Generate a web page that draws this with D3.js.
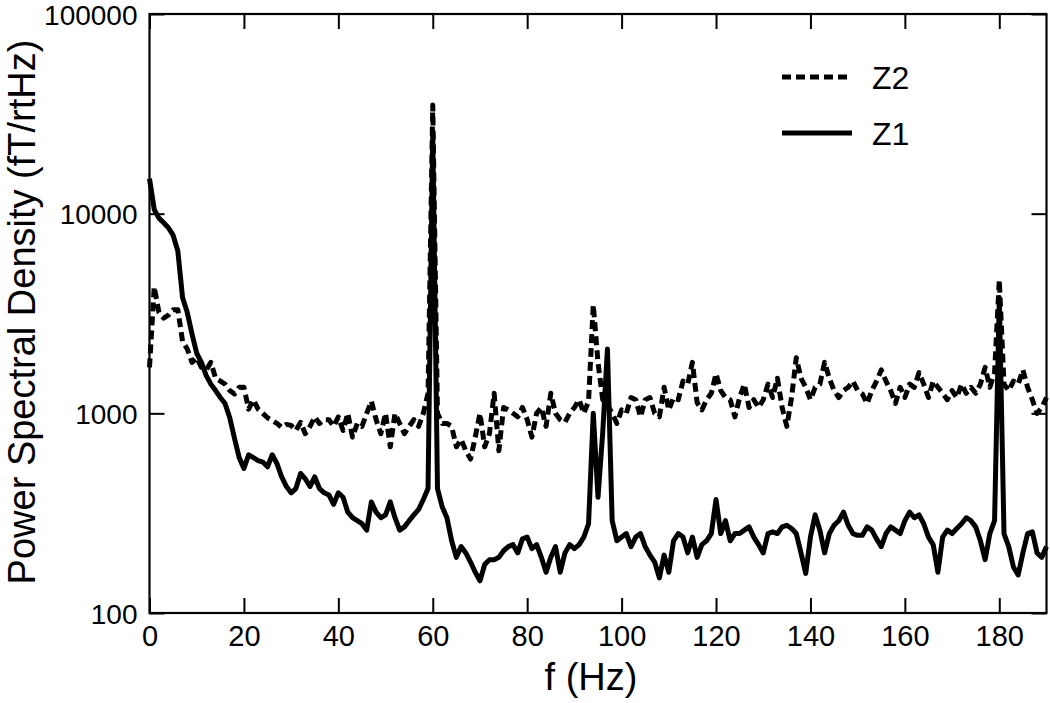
<!DOCTYPE html>
<html lang="en">
<head>
  <meta charset="UTF-8" />
  <title>Power Spectral Density</title>
  <script src="https://d3js.org/d3.v7.min.js"></script>
  <style>
    body {
      margin: 0;
      padding: 0;
      background-color: #fff;
    }
    svg {
      display: block;
      font-family: "Liberation Sans", Arial, sans-serif;
    }
    .axis-line {
      fill: none;
      stroke: #000;
      stroke-width: 2.2px;
    }
    .trace {
      fill: none;
      stroke: #000;
      stroke-width: 5px;
      stroke-linejoin: round;
    }
  </style>
</head>
<body>
  <svg width="1050" height="703"></svg>

  <script>
    // frequency grid, 1 Hz steps from 0 to 190 Hz
    const freqs = d3.range(0, 191);

    // Z1 (solid), fT/rtHz
    const z1 = [
      15000, 10500, 9500, 9000, 8500, 7800, 6500, 3800, 3200, 2500,
      2000, 1800, 1550, 1400, 1300, 1200, 1120, 950, 750, 600,
      530, 620, 600, 580, 570, 540, 620, 560, 480, 430,
      400, 420, 500, 470, 430, 480, 420, 400, 390, 350,
      400, 380, 320, 300, 290, 280, 260, 360, 320, 300,
      310, 360, 300, 260, 270, 290, 310, 330, 370, 420,
      25000, 420, 340, 300, 230, 190, 215, 200, 180, 160,
      145, 175, 185, 185, 190, 205, 215, 220, 200, 235,
      240, 210, 220, 190, 160, 190, 215, 160, 200, 220,
      210, 220, 240, 280, 1000, 380, 800, 2100, 290, 230,
      240, 250, 215, 240, 250, 215, 195, 180, 150, 195,
      160, 230, 250, 240, 200, 240, 190, 220, 230, 250,
      370, 250, 290, 230, 250, 250, 260, 270, 240, 220,
      200, 250, 255, 250, 270, 275, 265, 250, 200, 158,
      240, 310, 260, 200, 250, 275, 290, 320, 275, 250,
      245, 245, 270, 260, 235, 215, 250, 270, 260, 250,
      290, 320, 300, 310, 280, 240, 220, 160, 240, 260,
      250, 265, 280, 300, 290, 270, 230, 185, 250, 290,
      3800, 250, 215, 170, 155, 200, 250, 255, 200, 190,
      215
    ];

    // Z2 (dashed), fT/rtHz
    const z2 = [
      1700, 4300, 3200, 3000, 3100, 3300, 3300, 2300, 2100, 1800,
      1900, 1700, 1650, 1800, 1500, 1450, 1400, 1300, 1250, 1350,
      1350, 1050, 1170, 1050, 1000, 950, 920, 890, 850, 880,
      870, 820, 900, 790, 860, 960, 890, 930, 930, 860,
      960, 820, 1000, 760, 890, 860, 1000, 1150, 930, 790,
      1000, 680, 1000, 890, 790, 860, 930, 860, 1000, 1260,
      35000, 1000, 890, 890, 860, 680, 740, 650, 590, 760,
      1000, 680, 790, 1260, 650, 1070, 1040, 1000, 960, 1070,
      930, 760, 1000, 1070, 860, 1260, 1000, 930, 900, 1000,
      1070, 1170, 1000, 1150, 3500, 1800, 1170, 1100, 1000, 890,
      1040, 1000, 1200, 1170, 960, 1170, 1200, 1000, 960, 1350,
      1040, 1200, 1170, 1450, 1400, 1800, 1130, 1040, 1170, 1260,
      1580, 1300, 1200, 1170, 960, 1200, 1400, 1070, 1170, 1070,
      1170, 1400, 1200, 1500, 1070, 860, 1200, 1900, 1500, 1350,
      1170, 1350, 1400, 1800, 1500, 1300, 1200, 1300, 1350, 1450,
      1300, 1250, 1120, 1300, 1450, 1650, 1450, 1300, 1120, 1350,
      1200, 1400, 1350, 1600, 1400, 1200, 1450, 1350, 1260, 1170,
      1300, 1200, 1400, 1260, 1350, 1260, 1400, 1700, 1350, 1600,
      4650, 1400, 1300, 1450, 1400, 1650, 1350, 1170, 1000, 1070,
      1200
    ];

    const xTicks = [0, 20, 40, 60, 80, 100, 120, 140, 160, 180];
    const yTicks = [100, 1000, 10000, 100000];

    const seriesNames = ["Z2", "Z1"];

    const svg = d3.select("svg");
    const plotLeft = 149.5, plotRight = 1046.5, plotTop = 14, plotBottom = 613;
    const tickLen = 15;

    const x = d3.scaleLinear().domain([0, 190]).range([plotLeft, plotRight]);
    const y = d3.scaleLog().domain([100, 100000]).range([plotBottom, plotTop]);

    const line = d3.line()
      .x((d, i) => x(freqs[i]))
      .y(d => y(d));

    // data traces
    svg.append("path")
      .datum(z1)
      .attr("class", "trace")
      .attr("d", line);

    svg.append("path")
      .datum(z2)
      .attr("class", "trace")
      .attr("stroke-dasharray", "9,5")
      .attr("d", line);

    // axes: bottom and left with labels, top and right ticks only
    const bottomAxis = d3.axisBottom(x).tickValues(xTicks).tickSizeInner(-tickLen).tickSizeOuter(0).tickPadding(12);
    const topAxis = d3.axisTop(x).tickValues(xTicks).tickSizeInner(-tickLen).tickSizeOuter(0).tickFormat("");
    const leftAxis = d3.axisLeft(y).tickValues(yTicks).tickSizeInner(-tickLen).tickSizeOuter(0)
      .tickPadding(12).tickFormat(d3.format("d"));
    const rightAxis = d3.axisRight(y).tickValues(yTicks).tickSizeInner(-tickLen).tickSizeOuter(0).tickFormat("");

    function styleAxis(g) {
      g.select(".domain").remove();
      g.selectAll(".tick line").attr("stroke", "#000").attr("stroke-width", 2);
      g.selectAll(".tick text").attr("fill", "#000").style("font-size", "28px")
        .style("font-family", "'Liberation Sans', Arial, sans-serif");
    }

    svg.append("g").attr("transform", `translate(0,${plotBottom})`).call(bottomAxis).call(styleAxis)
      .selectAll(".tick text").attr("dy", "0.72em").style("font-size", "29px");
    svg.append("g").attr("transform", `translate(0,${plotTop})`).call(topAxis).call(styleAxis);
    svg.append("g").attr("transform", `translate(${plotLeft},0)`).call(leftAxis).call(styleAxis)
      .selectAll(".tick text").attr("dy", "0.36em");
    svg.append("g").attr("transform", `translate(${plotRight},0)`).call(rightAxis).call(styleAxis);

    // frame
    svg.append("rect")
      .attr("class", "axis-line")
      .attr("x", plotLeft)
      .attr("y", plotTop)
      .attr("width", plotRight - plotLeft)
      .attr("height", plotBottom - plotTop);

    // axis titles
    svg.append("text")
      .attr("x", 591)
      .attr("y", 690)
      .attr("text-anchor", "middle")
      .style("font-size", "38px")
      .text("f (Hz)");

    svg.append("text")
      .attr("transform", "translate(35,312) rotate(-90)")
      .attr("text-anchor", "middle")
      .style("font-size", "38px")
      .text("Power Spectral Density (fT/rtHz)");

    // legend
    const legend = svg.append("g");
    const legendRows = [
      { name: seriesNames[0], dash: "9,5", y: 77 },
      { name: seriesNames[1], dash: null, y: 133 }
    ];
    legendRows.forEach(r => {
      legend.append("line")
        .attr("x1", 782).attr("x2", 852)
        .attr("y1", r.y).attr("y2", r.y)
        .attr("stroke", "#000")
        .attr("stroke-width", 5)
        .attr("stroke-dasharray", r.dash);
      legend.append("text")
        .attr("x", 872)
        .attr("y", r.y + 12)
        .style("font-size", "32px")
        .text(r.name);
    });
  </script>
</body>
</html>
